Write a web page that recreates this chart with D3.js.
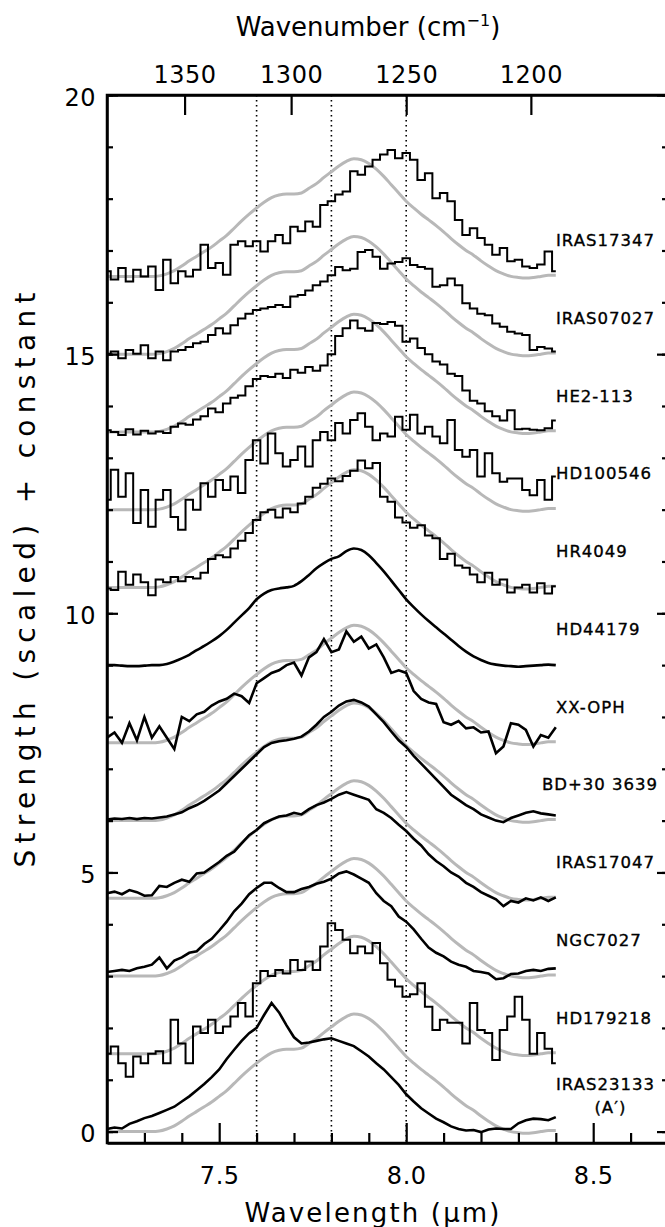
<!DOCTYPE html>
<html>
<head>
<meta charset="utf-8">
<script src="https://cdn.jsdelivr.net/npm/d3@7"></script>
<style>
  body { margin: 0; background: #fff; }
  text { font-family: "DejaVu Sans", sans-serif; fill: #000; }
</style>
</head>
<body>
<svg id="chart"></svg>
<script>
// wavelength grid (micron) shared by all spectra
const wavelength = [7.20,7.22,7.24,7.26,7.28,7.30,7.32,7.34,7.36,7.38,
  7.40,7.42,7.44,7.46,7.48,7.50,7.52,7.54,7.56,7.58,
  7.60,7.62,7.64,7.66,7.68,7.70,7.72,7.74,7.76,7.78,
  7.80,7.82,7.84,7.86,7.88,7.90,7.92,7.94,7.96,7.98,
  8.00,8.02,8.04,8.06,8.08,8.10,8.12,8.14,8.16,8.18,
  8.20,8.22,8.24,8.26,8.28,8.30,8.32,8.34,8.36,8.38,8.40];

// gray comparison profile (scaled strength, above each baseline)
const grayTemplate = [0,0,0,0,0,0,0,0.01,0.05,0.11,
  0.20,0.30,0.39,0.48,0.57,0.68,0.79,0.93,1.07,1.20,
  1.32,1.43,1.52,1.57,1.59,1.59,1.61,1.70,1.79,1.91,
  2.02,2.13,2.22,2.27,2.25,2.18,2.07,1.93,1.77,1.61,
  1.45,1.32,1.20,1.09,0.98,0.86,0.73,0.61,0.50,0.41,
  0.30,0.20,0.11,0.05,0,-0.02,-0.03,-0.02,0,0.02,0.02];

// observed spectra (scaled strength, before adding the constant)
const IRAS17347 = [0.10,-0.06,0.16,-0.10,0.13,0.00,0.19,-0.26,0.32,-0.13,
  0.10,0.00,0.13,0.61,0.16,0.26,0.03,0.61,0.68,0.58,
  0.68,0.48,0.68,0.80,0.64,0.96,0.87,1.06,0.96,1.38,
  1.45,1.58,1.64,2.03,1.96,2.12,2.25,2.35,2.44,2.28,
  2.38,2.25,1.86,1.99,1.51,1.61,1.45,1.09,0.80,0.93,
  0.74,0.61,0.42,0.55,0.29,0.32,0.19,0.16,0.23,0.48,0.10];
const IRAS07027 = [0.01,0.05,-0.08,0.08,0.01,0.17,-0.08,0.05,-0.12,0.05,
  0.08,0.14,0.21,0.24,0.37,0.50,0.40,0.56,0.69,0.78,
  0.85,0.88,0.91,0.95,0.91,1.11,1.14,1.23,1.33,1.40,
  1.52,1.68,1.62,1.65,1.97,2.01,1.88,1.65,1.75,1.78,
  1.85,1.72,1.68,1.65,1.30,1.33,1.46,1.33,0.98,0.88,
  0.78,0.75,0.59,0.53,0.43,0.40,0.37,0.08,0.14,0.11,0.05];
const HE2_113 = [0.03,0.00,-0.06,0.05,-0.05,0.02,-0.03,0.01,-0.02,0.10,
  0.16,0.14,0.24,0.30,0.45,0.38,0.55,0.66,0.70,0.88,
  1.02,1.08,1.06,1.12,1.04,1.20,1.14,1.25,1.18,1.28,
  1.50,1.85,2.00,2.15,2.00,1.95,2.10,2.08,2.12,2.05,
  1.74,1.80,1.62,1.50,1.36,1.30,1.12,1.08,0.80,0.60,
  0.55,0.40,0.30,0.22,0.42,0.05,0.06,0.04,0.03,0.07,0.22];
const HD100546 = [0.19,0.77,0.25,0.70,-0.26,0.38,-0.33,0.19,0.38,-0.14,
  -0.39,0.19,0.00,0.51,0.25,0.57,0.38,0.64,0.32,0.96,
  1.34,0.89,1.47,1.09,0.83,0.96,1.22,0.83,1.34,1.50,
  1.34,1.67,1.47,1.73,1.86,1.60,1.34,1.47,1.41,1.79,
  1.54,1.83,1.47,1.60,1.41,1.28,1.73,1.15,1.02,1.15,
  0.64,1.09,0.70,0.54,0.60,0.60,0.38,0.28,0.57,0.19,0.64];
const HR4049 = [-0.02,-0.05,0.30,0.05,0.25,0.10,-0.15,0.15,0.10,0.20,
  0.12,0.20,0.17,0.28,0.55,0.62,0.58,0.75,0.90,1.05,
  1.30,1.45,1.50,1.35,1.52,1.45,1.62,1.75,1.92,2.00,
  2.10,2.05,2.15,2.25,2.45,2.30,2.40,1.75,1.65,1.35,
  1.25,1.15,1.20,1.00,0.95,0.55,0.65,0.42,0.38,0.25,
  0.10,0.28,0.05,0.15,-0.10,0.00,0.05,-0.10,0.08,-0.12,0.02];
const HD44179 = [0,0,-0.01,-0.02,-0.02,-0.01,0,0,0.02,0.07,
  0.13,0.20,0.29,0.37,0.46,0.56,0.68,0.82,0.96,1.10,
  1.27,1.38,1.45,1.48,1.50,1.53,1.62,1.74,1.87,1.97,
  2.05,2.10,2.20,2.25,2.22,2.12,1.97,1.81,1.63,1.45,
  1.27,1.12,0.98,0.85,0.73,0.61,0.49,0.37,0.26,0.17,
  0.10,0.04,0.01,-0.01,-0.02,-0.03,-0.02,-0.01,0,0.01,0];
const XX_OPH = [0.10,0.20,0.00,0.38,0.05,0.50,0.10,0.32,0.10,-0.12,
  0.50,0.42,0.55,0.60,0.72,0.80,0.85,0.95,0.90,0.77,
  1.15,1.25,1.35,1.40,1.50,1.55,1.30,1.65,1.75,2.00,
  1.75,1.80,2.15,1.95,2.05,1.82,1.90,1.65,1.35,1.40,
  1.35,1.00,0.85,0.78,0.75,0.40,0.35,0.42,0.28,0.30,
  0.20,0.22,-0.20,-0.07,0.38,0.35,0.25,-0.07,0.15,0.10,0.30];
const BD30_3639 = [0.02,0.04,0.03,0.05,0.03,0.05,0.04,0.06,0.08,0.12,
  0.16,0.24,0.30,0.38,0.48,0.58,0.72,0.86,1.00,1.14,
  1.28,1.42,1.50,1.53,1.55,1.58,1.62,1.72,1.85,2.00,
  2.10,2.22,2.30,2.33,2.28,2.20,2.05,1.90,1.72,1.55,
  1.42,1.25,1.10,0.95,0.80,0.65,0.50,0.40,0.30,0.22,
  0.12,0.06,0.00,-0.03,0.05,0.10,0.15,0.18,0.14,0.12,0.10];
const IRAS17047 = [0.10,0.13,0.08,0.16,0.12,0.05,0.06,0.24,0.22,0.30,
  0.36,0.32,0.48,0.50,0.60,0.70,0.82,0.90,1.06,1.22,
  1.32,1.45,1.52,1.58,1.60,1.65,1.62,1.72,1.80,1.85,
  1.92,2.00,2.05,2.00,1.95,1.90,1.72,1.65,1.55,1.42,
  1.30,1.15,1.02,0.85,0.72,0.62,0.50,0.42,0.30,0.22,
  0.12,0.05,-0.02,-0.15,-0.05,-0.08,0.00,-0.04,0.02,-0.05,0.02];
const NGC7027 = [0.08,0.10,0.12,0.10,0.15,0.18,0.22,0.36,0.15,0.30,
  0.36,0.45,0.48,0.62,0.72,0.88,1.05,1.25,1.40,1.58,
  1.70,1.80,1.80,1.70,1.62,1.62,1.68,1.72,1.78,1.82,
  1.88,1.98,2.02,1.96,1.88,1.80,1.60,1.45,1.35,1.15,
  1.05,0.90,0.72,0.55,0.45,0.38,0.28,0.22,0.18,0.10,
  0.08,0.05,-0.06,-0.04,0.04,0.05,0.10,0.12,0.10,0.14,0.15];
const HD179218 = [0.00,0.14,-0.18,-0.44,-0.05,-0.18,0.00,0.05,-0.18,0.66,
  0.20,-0.18,0.53,0.40,0.66,0.40,0.53,0.72,0.98,0.72,
  1.36,1.60,1.50,1.62,1.55,1.81,1.62,1.78,1.62,2.07,
  2.52,2.39,2.20,1.94,2.07,1.94,2.14,1.75,1.43,1.30,
  1.10,1.15,1.36,0.91,0.46,0.66,0.60,0.60,0.20,0.98,
  0.46,0.40,-0.12,0.46,0.72,1.10,0.66,0.00,0.40,0.10,-0.18];
const IRAS23133 = [0.05,0.08,0.06,0.15,0.20,0.26,0.30,0.36,0.42,0.48,
  0.58,0.68,0.80,0.92,1.05,1.20,1.40,1.58,1.75,1.90,
  2.00,2.25,2.48,2.30,2.05,1.82,1.70,1.72,1.75,1.78,
  1.80,1.75,1.70,1.65,1.55,1.45,1.32,1.20,1.05,0.90,
  0.72,0.58,0.45,0.35,0.25,0.18,0.10,0.05,0.02,0.03,
  -0.01,0.04,0.06,0.05,0.05,0.16,0.22,0.25,0.24,0.22,0.28];

const names = ["IRAS17347","IRAS07027","HE2-113","HD100546","HR4049","HD44179",
  "XX-OPH","BD+30 3639","IRAS17047","NGC7027","HD179218","IRAS23133\n(A\u2032)"];
const spectra = [IRAS17347, IRAS07027, HE2_113, HD100546, HR4049, HD44179,
  XX_OPH, BD30_3639, IRAS17047, NGC7027, HD179218, IRAS23133];
const constants = [16.5, 15, 13.5, 12, 10.5, 9, 7.5, 6, 4.5, 3, 1.5, 0];
const showTemplate = [true, true, true, true, true, false, true, true, true, true, true, true];
// low = coarse binned spectrum (histogram), high = finely sampled, smooth = averaged
const resolution = ["low","low","low","low","low","smooth","high","high","high","high","low","high"];

const bottomTicks = [7.5, 8.0, 8.5];
const bottomMinor = [7.3, 7.4, 7.6, 7.7, 7.8, 7.9, 8.1, 8.2, 8.3, 8.4, 8.6];
const wavenumberTicks = [1350, 1300, 1250, 1200];
const yTicks = [0, 5, 10, 15, 20];
const yMinor = d3.range(0, 21);
const markerLines = [7.6, 7.8, 8.0];

const width = 665, height = 1227;
const plot = { left: 107, right: 668, top: 95, bottom: 1143 };

const svg = d3.select("#chart")
  .attr("width", width)
  .attr("height", height)
  .style("background", "#fff");

const x = d3.scaleLinear().domain([7.2, 8.7]).range([plot.left, plot.right]);
const y = d3.scaleLinear().domain([-0.22, 20]).range([plot.bottom, plot.top]);

// dotted reference lines
svg.append("g")
  .selectAll("line")
  .data(markerLines)
  .enter().append("line")
  .attr("x1", d => x(d)).attr("x2", d => x(d))
  .attr("y1", y(20)).attr("y2", y(-0.22))
  .attr("stroke", "#000")
  .attr("stroke-width", 1.6)
  .attr("stroke-dasharray", "1.6,3.4");

// spectra
const pts = arr => arr.map((v, i) => [wavelength[i], v]);
const curveFor = r => r === "low" ? d3.curveStep : (r === "smooth" ? d3.curveMonotoneX : d3.curveLinear);
const widthFor = r => r === "low" ? 2 : (r === "smooth" ? 2.6 : 2.6);

const specG = svg.append("g");
spectra.forEach((s, k) => {
  const base = constants[k];
  if (showTemplate[k]) {
    specG.append("path")
      .datum(pts(grayTemplate))
      .attr("d", d3.line().x(d => x(d[0])).y(d => y(base + d[1])).curve(d3.curveMonotoneX))
      .attr("fill", "none")
      .attr("stroke", "#b8b8b8")
      .attr("stroke-width", 3);
  }
  specG.append("path")
    .datum(pts(s))
    .attr("d", d3.line().x(d => x(d[0])).y(d => y(base + d[1])).curve(curveFor(resolution[k])))
    .attr("fill", "none")
    .attr("stroke", "#000")
    .attr("stroke-width", widthFor(resolution[k]))
    .attr("stroke-linejoin", "miter");
});

// axes
function styleAxis(g, fontSize) {
  g.select(".domain").attr("stroke-width", 2.5);
  g.selectAll(".tick line").attr("stroke-width", 2.2);
  g.selectAll("text").attr("font-size", fontSize).attr("font-family", "'DejaVu Sans', sans-serif")
    .style("letter-spacing", "0.5px");
}

const xBottom = svg.append("g").attr("transform", `translate(0,${plot.bottom})`)
  .call(d3.axisBottom(x).tickValues(bottomTicks).tickSize(-20).tickSizeOuter(0)
    .tickPadding(24).tickFormat(d3.format(".1f")));
styleAxis(xBottom, 24);
svg.append("g").attr("transform", `translate(0,${plot.bottom})`)
  .call(d3.axisBottom(x).tickValues(bottomMinor).tickSize(-10).tickSizeOuter(0).tickFormat(""))
  .call(g => { g.select(".domain").remove(); g.selectAll(".tick line").attr("stroke-width", 2.2); });

const xTop = svg.append("g").attr("transform", `translate(0,${plot.top})`)
  .call(d3.axisTop(x).tickValues(wavenumberTicks.map(w => 1e4 / w)).tickSize(-20).tickSizeOuter(0)
    .tickPadding(12).tickFormat((d, i) => wavenumberTicks[i]));
styleAxis(xTop, 24);

const yLeft = svg.append("g").attr("transform", `translate(${plot.left},0)`)
  .call(d3.axisLeft(y).tickValues(yTicks).tickSize(-11).tickSizeOuter(0).tickPadding(11));
styleAxis(yLeft, 24);
yLeft.selectAll("text").attr("dy", "0.42em");
svg.append("g").attr("transform", `translate(${plot.left},0)`)
  .call(d3.axisLeft(y).tickValues(yMinor).tickSize(-6).tickSizeOuter(0).tickFormat(""))
  .call(g => { g.select(".domain").remove(); g.selectAll(".tick line").attr("stroke-width", 2.2); });

const yRight = svg.append("g").attr("transform", `translate(${plot.right},0)`)
  .call(d3.axisRight(y).tickValues(yTicks).tickSize(-11).tickSizeOuter(0).tickFormat(""));
styleAxis(yRight, 24);
svg.append("g").attr("transform", `translate(${plot.right},0)`)
  .call(d3.axisRight(y).tickValues(yMinor).tickSize(-6).tickSizeOuter(0).tickFormat(""))
  .call(g => { g.select(".domain").remove(); g.selectAll(".tick line").attr("stroke-width", 2.2); });

// plot frame
svg.append("rect")
  .attr("x", plot.left).attr("y", plot.top)
  .attr("width", plot.right - plot.left).attr("height", plot.bottom - plot.top)
  .attr("fill", "none").attr("stroke", "#000").attr("stroke-width", 2.5);

// axis titles
svg.append("text")
  .attr("x", 372).attr("y", 1222)
  .attr("text-anchor", "middle")
  .attr("font-size", 26)
  .attr("textLength", 255).attr("lengthAdjust", "spacing")
  .text("Wavelength (\u03bcm)");

const topTitle = svg.append("text")
  .attr("x", 368).attr("y", 36)
  .attr("text-anchor", "middle")
  .attr("font-size", 26);
topTitle.append("tspan").text("Wavenumber (cm");
topTitle.append("tspan").attr("font-size", 16).attr("dy", -10).text("\u22121");
topTitle.append("tspan").attr("dy", 10).text(")");

svg.append("text")
  .attr("transform", "translate(35,580) rotate(-90)")
  .attr("text-anchor", "middle")
  .attr("font-size", 28)
  .attr("textLength", 575).attr("lengthAdjust", "spacing")
  .text("Strength (scaled) + constant");

// source names at the right end of each spectrum
const labelX = 556, labelRight = 658;
names.forEach((nm, k) => {
  const lines = nm.split("\n");
  const lineStep = 0.45;
  const yc = constants[k] + 0.7 + (lines.length - 1) * lineStep / 2;
  const first = svg.append("text")
    .attr("x", labelX)
    .attr("y", y(yc))
    .attr("dy", "0.36em")
    .attr("font-size", 16.5)
    .attr("stroke", "#000").attr("stroke-width", 0.35)
    .style("letter-spacing", "1px")
    .text(lines[0]);
  const w = first.node().getComputedTextLength();
  if (labelX + w > labelRight) first.attr("x", labelRight - w);
  lines.slice(1).forEach((ln, j) => {
    svg.append("text")
      .attr("x", labelX + w * 0.55)
      .attr("y", y(yc - (j + 1) * lineStep))
      .attr("dy", "0.36em")
      .attr("text-anchor", "middle")
      .attr("font-size", 16.5)
      .attr("stroke", "#000").attr("stroke-width", 0.35)
      .style("letter-spacing", "1px")
      .text(ln);
  });
});
</script>
</body>
</html>
